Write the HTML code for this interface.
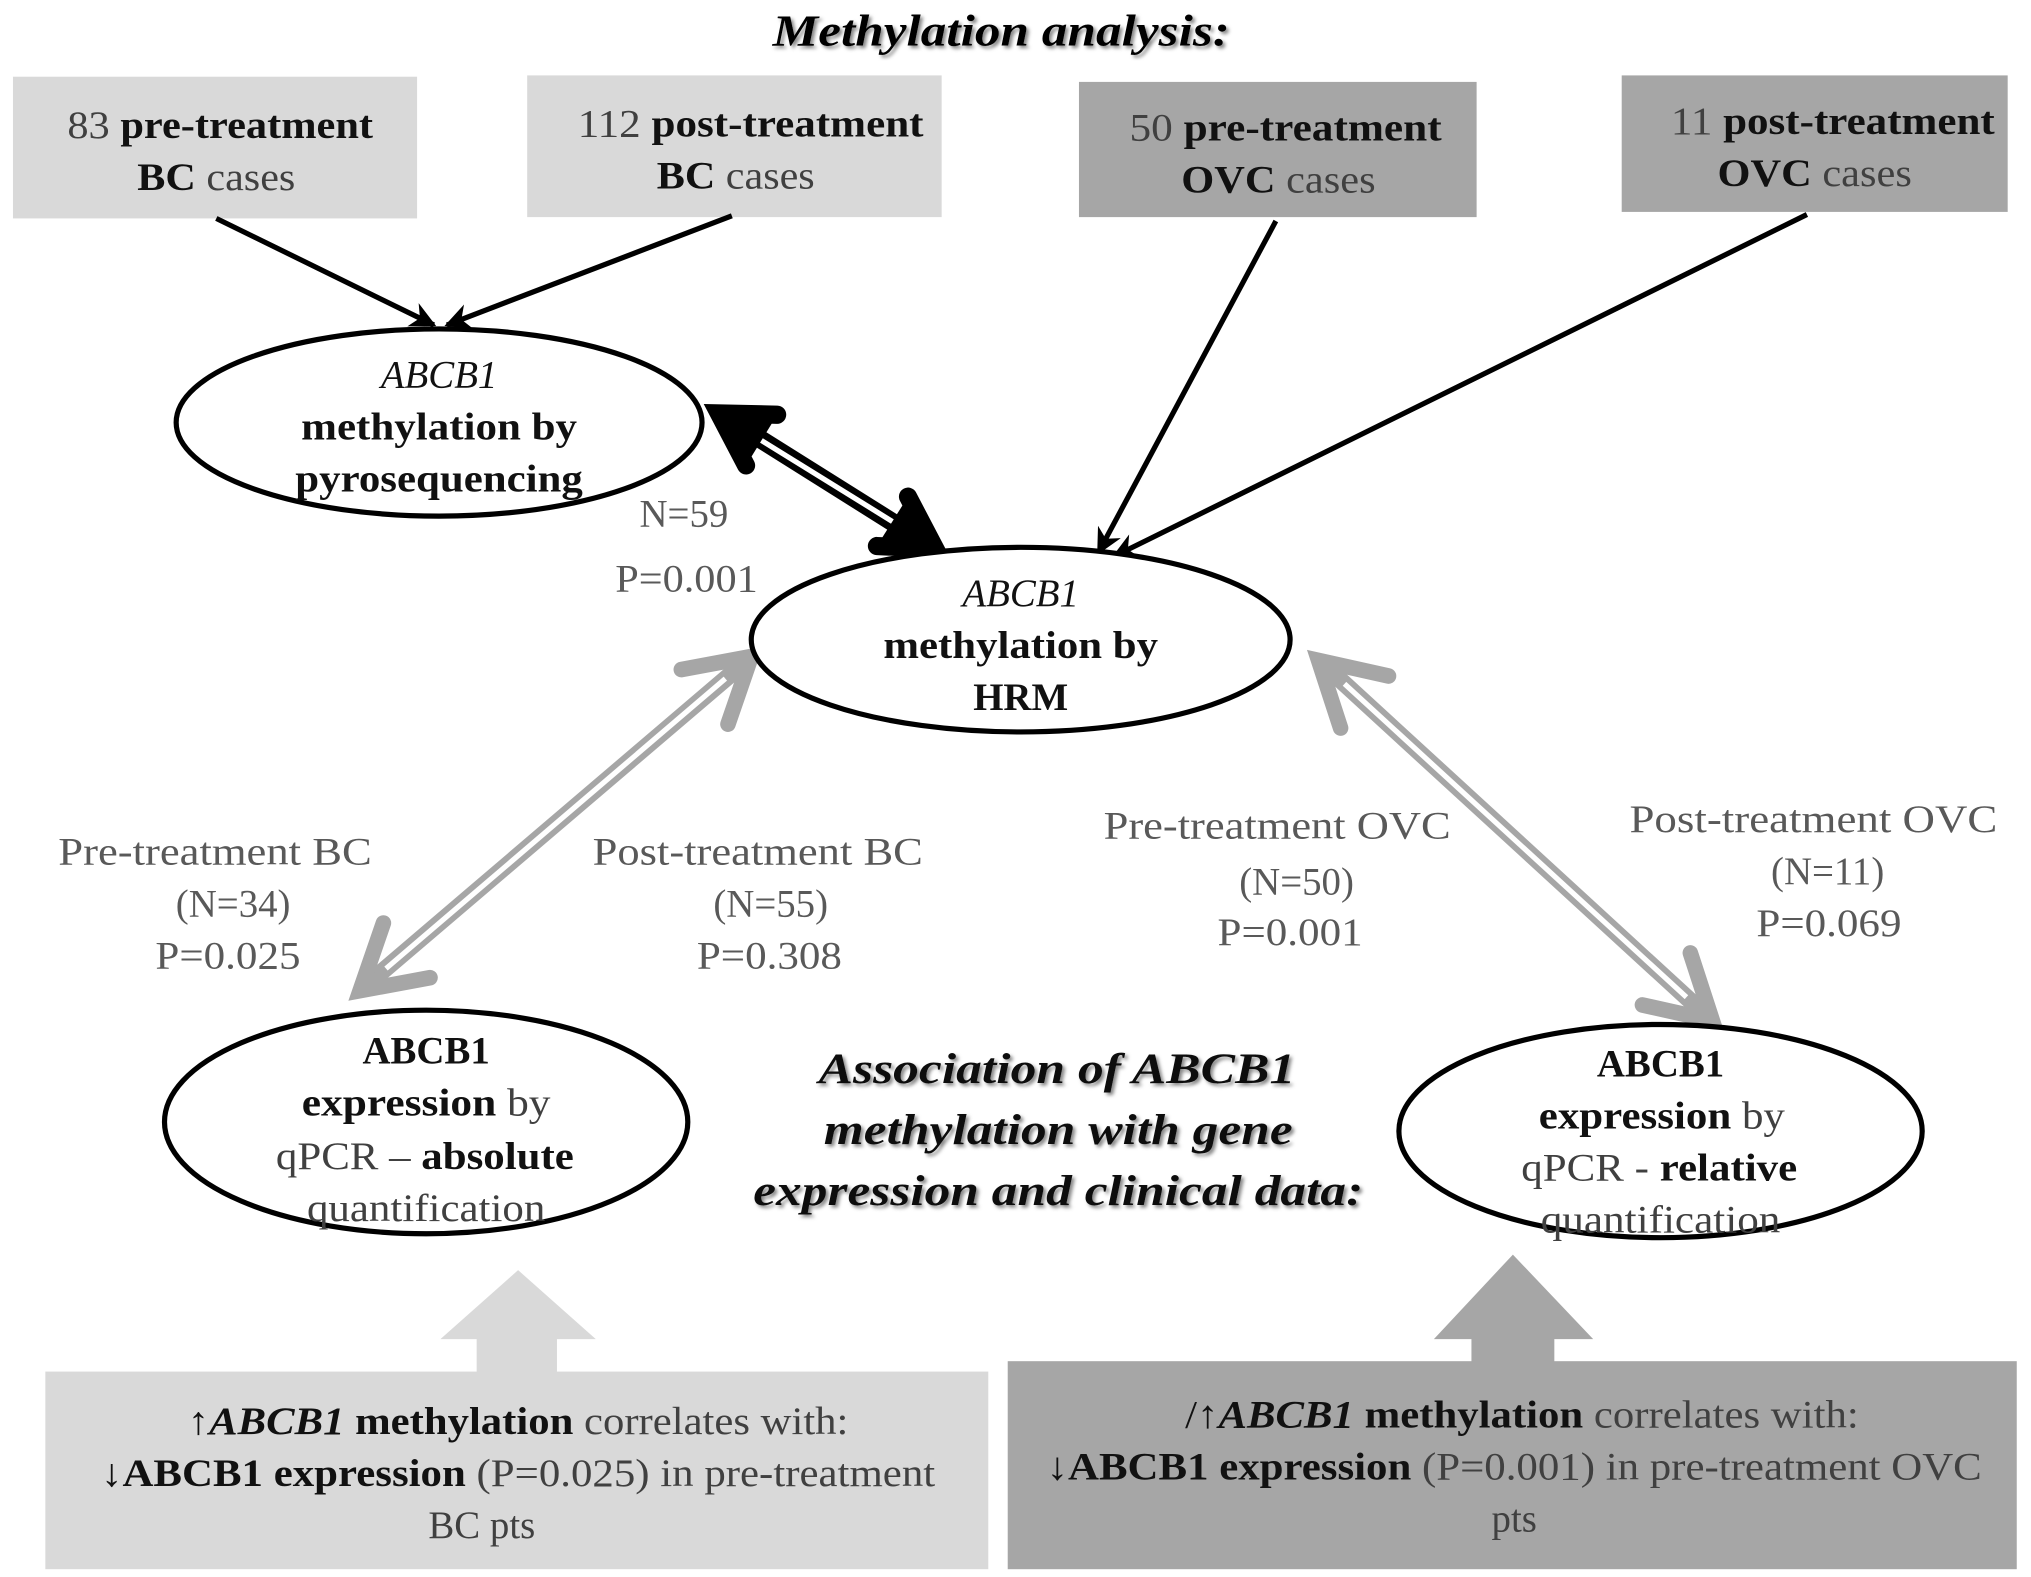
<!DOCTYPE html>
<html><head><meta charset="utf-8"><style>
html,body{margin:0;padding:0;background:#fff;}
svg{display:block;}
text{font-family:"Liberation Serif",serif;}
</style></head><body>
<svg width="2031" height="1577" viewBox="0 0 1568 1213" preserveAspectRatio="none" xmlns="http://www.w3.org/2000/svg">
<defs>
<marker id="ah" viewBox="0 0 10 10" refX="9" refY="5" markerWidth="5" markerHeight="5" orient="auto"><path d="M0,0 L10,5 L0,10 L3,5 Z" fill="#000"/></marker>
<filter id="sh"><feDropShadow dx="2" dy="2" stdDeviation="1.5" flood-color="#888"/></filter>
</defs>
<rect width="1568" height="1213" fill="#fff"/>
<text x="773" y="35" text-anchor="middle" font-size="34" font-weight="bold" font-style="italic" textLength="353" lengthAdjust="spacingAndGlyphs" filter="url(#sh)">Methylation analysis:</text>

<rect x="10" y="59" width="312" height="109" fill="#d9d9d9"/>
<rect x="407" y="58" width="320" height="109" fill="#d9d9d9"/>
<rect x="833" y="63" width="307" height="104" fill="#a6a6a6"/>
<rect x="1252" y="58" width="298" height="105" fill="#a6a6a6"/>

<g font-size="30" fill="#404040">
<text x="52" y="106" textLength="236" lengthAdjust="spacingAndGlyphs">83 <tspan font-weight="bold" fill="#111">pre-treatment</tspan></text>
<text x="106" y="146" textLength="122" lengthAdjust="spacingAndGlyphs"><tspan font-weight="bold" fill="#111">BC</tspan> cases</text>
<text x="446" y="105" textLength="267" lengthAdjust="spacingAndGlyphs">112 <tspan font-weight="bold" fill="#111">post-treatment</tspan></text>
<text x="507" y="145" textLength="122" lengthAdjust="spacingAndGlyphs"><tspan font-weight="bold" fill="#111">BC</tspan> cases</text>
<text x="872" y="108" textLength="241" lengthAdjust="spacingAndGlyphs">50 <tspan font-weight="bold" fill="#111">pre-treatment</tspan></text>
<text x="912" y="148" textLength="150" lengthAdjust="spacingAndGlyphs"><tspan font-weight="bold" fill="#111">OVC</tspan> cases</text>
<text x="1290" y="103" textLength="250" lengthAdjust="spacingAndGlyphs">11 <tspan font-weight="bold" fill="#111">post-treatment</tspan></text>
<text x="1326" y="143" textLength="150" lengthAdjust="spacingAndGlyphs"><tspan font-weight="bold" fill="#111">OVC</tspan> cases</text>
</g>

<g stroke="#000" stroke-width="4" marker-end="url(#ah)">
<line x1="167" y1="168" x2="335" y2="250"/>
<line x1="565" y1="166" x2="345" y2="250"/>
<line x1="985" y1="170" x2="848" y2="425"/>
<line x1="1395" y1="165" x2="860" y2="428"/>
</g>

<!-- black double arrow -->
<line x1="565" y1="324" x2="712" y2="416" stroke="#000" stroke-width="14"/>
<line x1="585" y1="337" x2="692" y2="403" stroke="#fff" stroke-width="4"/>
<polyline points="576,358 555,318 600,319" fill="#000" stroke="#000" stroke-width="14" stroke-linejoin="miter" stroke-linecap="round"/>
<polyline points="701,382 722,422 677,420" fill="#000" stroke="#000" stroke-width="14" stroke-linejoin="miter" stroke-linecap="round"/>

<!-- gray double arrows -->
<g stroke="#a6a6a6" fill="none" stroke-linecap="round" stroke-linejoin="miter">
<line x1="572" y1="512" x2="286" y2="755" stroke-width="13"/>
<polyline points="526,515 580,505 562,557" stroke-width="12"/>
<polyline points="332,752 278,762 296,710" stroke-width="12"/>
<line x1="1026" y1="515" x2="1314" y2="778" stroke-width="13"/>
<polyline points="1035,560 1018,508 1072,520" stroke-width="12"/>
<polyline points="1305,733 1322,785 1268,773" stroke-width="12"/>
</g>
<line x1="560" y1="522" x2="298" y2="745" stroke="#fff" stroke-width="4"/>
<line x1="1038" y1="526" x2="1302" y2="767" stroke="#fff" stroke-width="4"/>

<ellipse cx="339" cy="325" rx="203" ry="72" fill="#fff" stroke="#000" stroke-width="4"/>
<ellipse cx="788" cy="492" rx="208" ry="71" fill="#fff" stroke="#000" stroke-width="4"/>
<ellipse cx="329" cy="863" rx="202" ry="86" fill="#fff" stroke="#000" stroke-width="4"/>
<ellipse cx="1282" cy="870" rx="202" ry="82" fill="#fff" stroke="#000" stroke-width="4"/>

<g font-size="30" fill="#111" text-anchor="middle">
<text x="339" y="298" font-style="italic">ABCB1</text>
<text x="339" y="338" font-weight="bold" textLength="213" lengthAdjust="spacingAndGlyphs">methylation by</text>
<text x="339" y="378" font-weight="bold" textLength="222" lengthAdjust="spacingAndGlyphs">pyrosequencing</text>
<text x="788" y="466" font-style="italic">ABCB1</text>
<text x="788" y="506" font-weight="bold" textLength="212" lengthAdjust="spacingAndGlyphs">methylation by</text>
<text x="788" y="546" font-weight="bold">HRM</text>
<text x="329" y="818" font-weight="bold">ABCB1</text>
<text x="329" y="858" textLength="192" lengthAdjust="spacingAndGlyphs"><tspan font-weight="bold">expression</tspan><tspan fill="#404040"> by</tspan></text>
<text x="328" y="899" textLength="230" lengthAdjust="spacingAndGlyphs"><tspan fill="#404040">qPCR – </tspan><tspan font-weight="bold">absolute</tspan></text>
<text x="329" y="939" fill="#404040" textLength="184" lengthAdjust="spacingAndGlyphs">quantification</text>
<text x="1282" y="828" font-weight="bold">ABCB1</text>
<text x="1283" y="868" textLength="190" lengthAdjust="spacingAndGlyphs"><tspan font-weight="bold">expression</tspan><tspan fill="#404040"> by</tspan></text>
<text x="1281" y="908" textLength="213" lengthAdjust="spacingAndGlyphs"><tspan fill="#404040">qPCR - </tspan><tspan font-weight="bold">relative</tspan></text>
<text x="1282" y="948" fill="#404040" textLength="185" lengthAdjust="spacingAndGlyphs">quantification</text>
</g>

<g font-size="30" fill="#595959" text-anchor="middle">
<text x="528" y="405">N=59</text>
<text x="530" y="455" textLength="110" lengthAdjust="spacingAndGlyphs">P=0.001</text>
<text x="166" y="665" textLength="242" lengthAdjust="spacingAndGlyphs">Pre-treatment BC</text>
<text x="180" y="705">(N=34)</text>
<text x="176" y="745" textLength="112" lengthAdjust="spacingAndGlyphs">P=0.025</text>
<text x="585" y="665" textLength="255" lengthAdjust="spacingAndGlyphs">Post-treatment BC</text>
<text x="595" y="705">(N=55)</text>
<text x="594" y="745" textLength="112" lengthAdjust="spacingAndGlyphs">P=0.308</text>
<text x="986" y="645" textLength="268" lengthAdjust="spacingAndGlyphs">Pre-treatment OVC</text>
<text x="1001" y="688">(N=50)</text>
<text x="996" y="727" textLength="112" lengthAdjust="spacingAndGlyphs">P=0.001</text>
<text x="1400" y="640" textLength="284" lengthAdjust="spacingAndGlyphs">Post-treatment OVC</text>
<text x="1411" y="680">(N=11)</text>
<text x="1412" y="720" textLength="112" lengthAdjust="spacingAndGlyphs">P=0.069</text>
</g>

<g font-size="33" font-weight="bold" font-style="italic" fill="#111" text-anchor="middle" filter="url(#sh)">
<text x="816" y="833" textLength="368" lengthAdjust="spacingAndGlyphs">Association of ABCB1</text>
<text x="817" y="880" textLength="362" lengthAdjust="spacingAndGlyphs">methylation with gene</text>
<text x="817" y="927" textLength="471" lengthAdjust="spacingAndGlyphs">expression and clinical data:</text>
</g>

<polygon points="400,977 460,1030 430,1030 430,1056 368,1056 368,1030 340,1030" fill="#d9d9d9"/>
<polygon points="1168,965 1230,1030 1200,1030 1200,1048 1136,1048 1136,1030 1107,1030" fill="#a6a6a6"/>
<rect x="35" y="1055" width="728" height="152" fill="#d9d9d9"/>
<rect x="778" y="1047" width="779" height="160" fill="#a6a6a6"/>

<g font-size="30" fill="#404040" text-anchor="middle">
<text x="400" y="1103" textLength="510" lengthAdjust="spacingAndGlyphs"><tspan fill="#111">↑</tspan><tspan font-style="italic" font-weight="bold" fill="#111">ABCB1</tspan><tspan font-weight="bold" fill="#111"> methylation</tspan> correlates with:</text>
<text x="400" y="1143" textLength="644" lengthAdjust="spacingAndGlyphs"><tspan font-weight="bold" fill="#111">↓ABCB1 expression</tspan> (P=0.025) in pre-treatment</text>
<text x="372" y="1183">BC pts</text>
<text x="1175" y="1098" textLength="520" lengthAdjust="spacingAndGlyphs"><tspan fill="#111">/↑</tspan><tspan font-style="italic" font-weight="bold" fill="#111">ABCB1</tspan><tspan font-weight="bold" fill="#111"> methylation</tspan> correlates with:</text>
<text x="1169" y="1138" textLength="722" lengthAdjust="spacingAndGlyphs"><tspan font-weight="bold" fill="#111">↓ABCB1 expression</tspan> (P=0.001) in pre-treatment OVC</text>
<text x="1169" y="1178">pts</text>
</g>
</svg>
</body></html>
